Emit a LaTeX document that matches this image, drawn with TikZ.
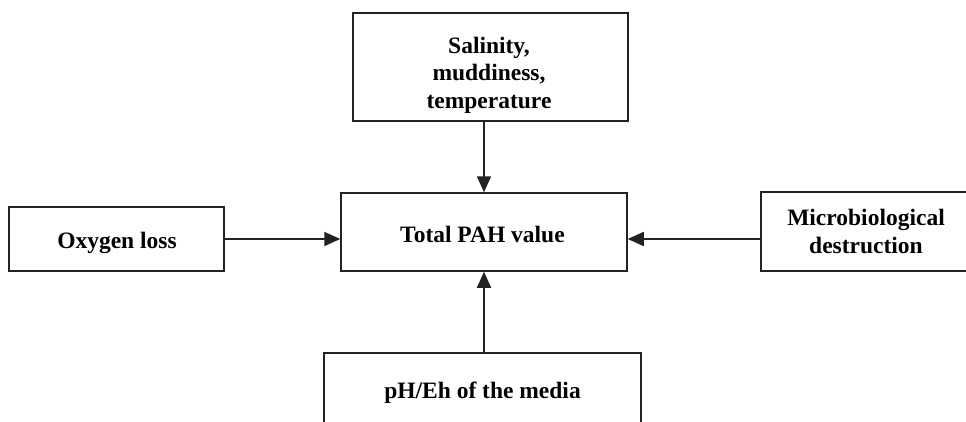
\documentclass[tikz,border=0pt]{standalone}
\usepackage{fontspec}
\setmainfont{Liberation Serif}
\usetikzlibrary{arrows.meta}
\definecolor{ink}{HTML}{222222}
\tikzset{
  box/.style={draw=ink, line width=1.5pt, inner sep=0pt},
  lbl/.style={anchor=base, inner sep=0pt, align=center, text=black,
    font=\fontsize{23.5}{27.5}\selectfont\bfseries},
  arr/.style={draw=ink, line width=1.6pt, -{Triangle[length=16pt,width=14pt]}}
}
\begin{document}
\begin{tikzpicture}[x=1pt,y=-1pt]
\clip (0,0) rectangle (966,421);
\fill[white] (0,0) rectangle (966,421);
% boxes
\node[box, minimum width=275pt, minimum height=108pt] (top) at (490.5,67) {};
\node[box, minimum width=286pt, minimum height=78pt] (mid) at (484,232) {};
\node[box, minimum width=215pt, minimum height=64pt] (oxy) at (116.5,239) {};
\node[box, minimum width=211pt, minimum height=79pt] (mic) at (866.5,231.5) {};
\node[box, minimum width=317pt, minimum height=74pt] (ph) at (482.5,390) {};
% texts (base = baseline of the last line)
\node[lbl] (toptxt) at (489,108) {Salinity,\\muddiness,\\temperature};
\node[lbl] (midtxt) at (482.5,242) {Total PAH value};
\node[lbl] (oxytxt) at (117,248) {Oxygen loss};
\node[lbl] (mictxt) at (866,253) {Microbiological\\destruction};
\node[lbl] (phtxt) at (482.5,398) {pH/Eh of the media};
% connectors
\coordinate (ay) at (0,239);
\draw[arr] (top.south -| mid.north) -- (mid.north);
\draw[arr] (oxy.east |- ay) -- (mid.west |- ay);
\draw[arr] (mic.west |- ay) -- (mid.east |- ay);
\draw[arr] (ph.north -| mid.south) -- (mid.south);
\end{tikzpicture}
\end{document}
